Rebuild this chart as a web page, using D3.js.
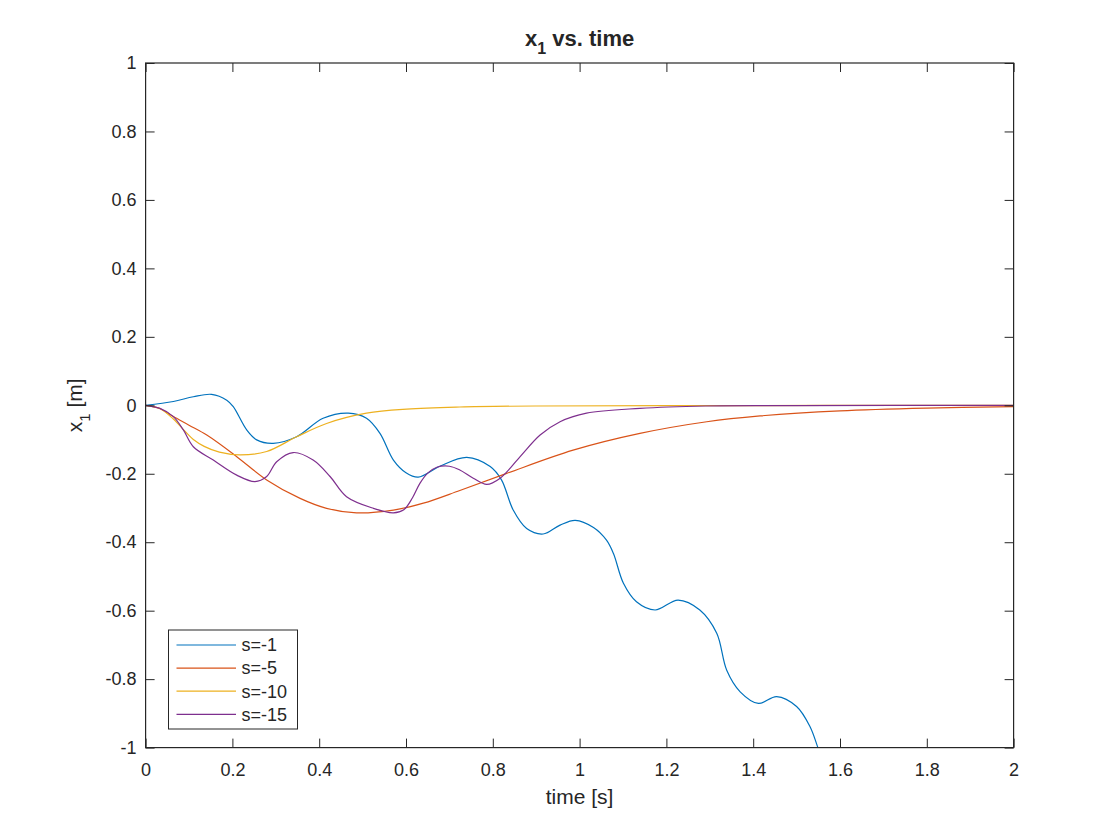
<!DOCTYPE html>
<html>
<head>
<meta charset="utf-8">
<script src="https://cdn.jsdelivr.net/npm/d3@7"></script>
<style>
  body { margin: 0; background: #fff; }
  text { font-family: "Liberation Sans", Arial, Helvetica, sans-serif; fill: #262626; }
</style>
</head>
<body>
<div id="chart"></div>
<script>
// values: [time, x1]
var s1 = [[0,0],[0.064,0.011],[0.11,0.025],[0.152,0.032],[0.187,0.015],[0.202,-0.004],
  [0.233,-0.072],[0.256,-0.101],[0.294,-0.111],[0.348,-0.092],[0.409,-0.038],[0.467,-0.023],
  [0.509,-0.038],[0.540,-0.082],[0.571,-0.16],[0.60,-0.197],[0.628,-0.21],[0.678,-0.178],
  [0.740,-0.152],[0.794,-0.179],[0.820,-0.218],[0.847,-0.306],[0.878,-0.36],[0.916,-0.376],
  [0.955,-0.35],[0.99,-0.336],[1.032,-0.357],[1.062,-0.394],[1.078,-0.433],[1.101,-0.520],
  [1.131,-0.574],[1.174,-0.598],[1.227,-0.569],[1.277,-0.598],[1.316,-0.666],[1.339,-0.774],
  [1.370,-0.837],[1.412,-0.871],[1.454,-0.851],[1.500,-0.880],[1.531,-0.939],[1.549,-1.0],[1.56,-1.04]];

var s5 = [[0,0],[0.03,-0.008],[0.064,-0.033],[0.10,-0.058],[0.141,-0.087],[0.21,-0.15],
  [0.279,-0.218],[0.356,-0.272],[0.417,-0.301],[0.486,-0.314],[0.571,-0.306],[0.640,-0.286],
  [0.724,-0.249],[0.832,-0.199],[0.985,-0.131],[1.139,-0.082],[1.293,-0.048],[1.416,-0.031],
  [1.6,-0.016],[1.8,-0.008],[2.0,-0.004]];

var s10 = [[0,0],[0.033,-0.01],[0.064,-0.04],[0.09,-0.075],[0.11,-0.1],[0.135,-0.12],
  [0.17,-0.137],[0.2175,-0.145],[0.279,-0.135],[0.348,-0.092],[0.417,-0.053],[0.509,-0.023],
  [0.602,-0.011],[0.724,-0.005],[0.9,-0.002],[1.2,-0.001],[2.0,0]];

var s15 = [[0,0],[0.033,-0.009],[0.064,-0.033],[0.087,-0.072],[0.110,-0.121],[0.156,-0.16],
  [0.21,-0.204],[0.252,-0.223],[0.279,-0.208],[0.302,-0.165],[0.340,-0.138],[0.386,-0.16],
  [0.425,-0.208],[0.463,-0.267],[0.525,-0.301],[0.571,-0.314],[0.595,-0.305],[0.615,-0.27],
  [0.632,-0.228],[0.65,-0.198],[0.671,-0.181],[0.700,-0.178],[0.724,-0.189],[0.755,-0.213],
  [0.786,-0.231],[0.817,-0.213],[0.863,-0.15],[0.909,-0.087],[0.955,-0.048],[1.016,-0.023],
  [1.139,-0.009],[1.29,-0.002],[1.5,-0.001],[2.0,0]];

var seriesNames = ['s=-1', 's=-5', 's=-10', 's=-15'];
var seriesData = [s1, s5, s10, s15];
var seriesColors = ['#0072BD', '#D95319', '#EDB120', '#7E2F8E'];

var xTicks = [0, 0.2, 0.4, 0.6, 0.8, 1, 1.2, 1.4, 1.6, 1.8, 2];
var yTicks = [-1, -0.8, -0.6, -0.4, -0.2, 0, 0.2, 0.4, 0.6, 0.8, 1];

var w = 1120, h = 840;
var plotLeft = 145.6, plotTop = 63, pw = 868, ph = 684.6;
var axisColor = '#262626';
var tickLen = 9;

var svg = d3.select('#chart').append('svg')
  .attr('width', w)
  .attr('height', h);

var x = d3.scaleLinear().domain([0, 2]).range([plotLeft, plotLeft + pw]);
var y = d3.scaleLinear().domain([-1, 1]).range([plotTop + ph, plotTop]);

var fmt = function(d) { return String(+d.toFixed(1)); };

svg.append('defs').append('clipPath').attr('id', 'plot-clip')
  .append('rect')
    .attr('x', plotLeft).attr('y', plotTop)
    .attr('width', pw).attr('height', ph);

// lines
var line = d3.line()
  .x(d => x(d[0]))
  .y(d => y(d[1]))
  .curve(d3.curveCatmullRom.alpha(0.5));

svg.append('g')
  .attr('clip-path', 'url(#plot-clip)')
  .selectAll('path')
  .data(seriesData)
  .enter()
  .append('path')
    .attr('d', d => line(d))
    .attr('fill', 'none')
    .attr('stroke', (d, i) => seriesColors[i])
    .attr('stroke-width', 1.2);

// axes (ticks inward, box on)
function styleAxis(g) {
  g.select('.domain').remove();
  g.selectAll('.tick line').attr('stroke', axisColor);
  g.selectAll('.tick text')
    .style('font-size', '18px')
    .attr('fill', axisColor);
}

svg.append('g')
  .attr('transform', 'translate(0,' + (plotTop + ph) + ')')
  .call(d3.axisBottom(x).tickValues(xTicks).tickFormat(fmt).tickSizeInner(-tickLen).tickPadding(16))
  .call(styleAxis);

svg.append('g')
  .attr('transform', 'translate(0,' + plotTop + ')')
  .call(d3.axisTop(x).tickValues(xTicks).tickFormat('').tickSizeInner(-tickLen))
  .call(styleAxis);

svg.append('g')
  .attr('transform', 'translate(' + plotLeft + ',0)')
  .call(d3.axisLeft(y).tickValues(yTicks).tickFormat(fmt).tickSizeInner(-tickLen).tickPadding(9))
  .call(styleAxis);

svg.append('g')
  .attr('transform', 'translate(' + (plotLeft + pw) + ',0)')
  .call(d3.axisRight(y).tickValues(yTicks).tickFormat('').tickSizeInner(-tickLen))
  .call(styleAxis);

svg.append('rect')
  .attr('x', plotLeft).attr('y', plotTop)
  .attr('width', pw).attr('height', ph)
  .attr('fill', 'none')
  .attr('stroke', axisColor)
  .attr('stroke-width', 1.2);

// title
var title = svg.append('text')
  .attr('x', plotLeft + pw / 2)
  .attr('y', 46)
  .attr('text-anchor', 'middle')
  .style('font-size', '22px')
  .style('font-weight', 'bold');
title.append('tspan').text('x');
title.append('tspan').attr('dy', 8).style('font-size', '16px').text('1');
title.append('tspan').attr('dy', -8).text(' vs. time');

// x label
svg.append('text')
  .attr('x', plotLeft + pw / 2)
  .attr('y', 804)
  .attr('text-anchor', 'middle')
  .style('font-size', '21px')
  .text('time [s]');

// y label
var ylab = svg.append('text')
  .attr('transform', 'translate(82,' + (plotTop + ph / 2) + ') rotate(-90)')
  .attr('text-anchor', 'middle')
  .style('font-size', '21px');
ylab.append('tspan').text('x');
ylab.append('tspan').attr('dy', 8).style('font-size', '15px').text('1');
ylab.append('tspan').attr('dy', -8).text(' [m]');

// legend
var legend = svg.append('g');
legend.append('rect')
  .attr('x', 168.5).attr('y', 630)
  .attr('width', 129).attr('height', 99)
  .attr('fill', '#fff')
  .attr('stroke', axisColor)
  .attr('stroke-width', 1);

var rows = legend.selectAll('.legend-row')
  .data(seriesNames)
  .enter()
  .append('g')
    .attr('class', 'legend-row')
    .attr('transform', (d, i) => 'translate(0,' + (645 + i * 23.1) + ')');

rows.append('line')
  .attr('x1', 176.5).attr('x2', 236)
  .attr('stroke', (d, i) => seriesColors[i])
  .attr('stroke-width', 1.2);

rows.append('text')
  .attr('x', 241.5)
  .attr('dy', '0.35em')
  .style('font-size', '18px')
  .text(d => d);
</script>
</body>
</html>
